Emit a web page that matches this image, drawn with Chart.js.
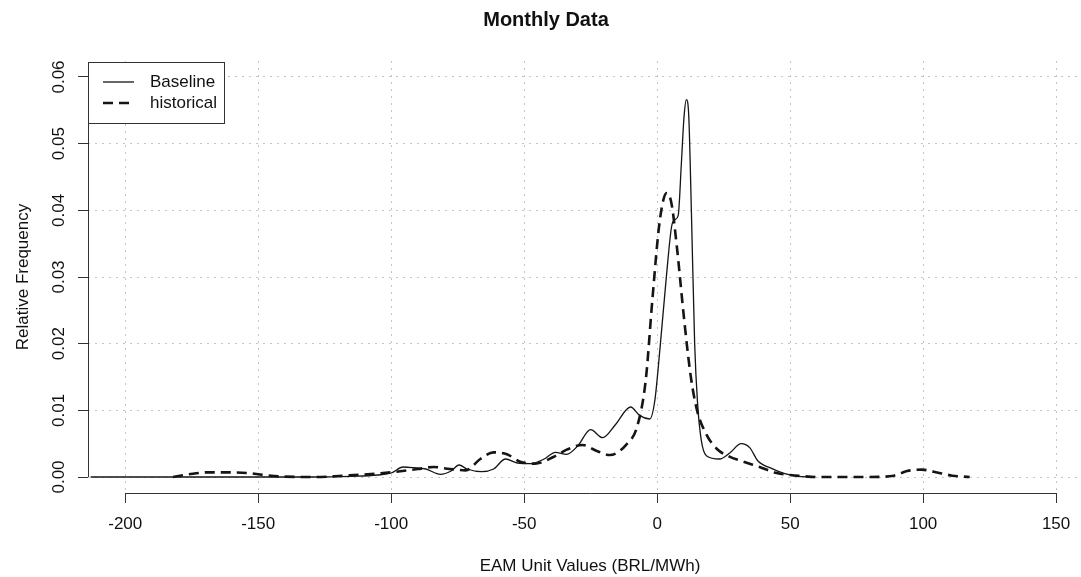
<!DOCTYPE html>
<html>
<head>
<meta charset="utf-8">
<title>Monthly Data</title>
<script src="https://cdn.jsdelivr.net/npm/chart.js@4/dist/chart.umd.min.js"></script>
<style>
  html, body { margin: 0; padding: 0; background: #ffffff; overflow: hidden; }
  #wrap { width: 1081px; height: 577px; overflow: hidden; position: relative; }
  canvas { display: block; }
</style>
</head>
<body>
<div id="wrap"><canvas id="chart" width="1180" height="577" style="width:1180px;height:577px"></canvas></div>
<script>
// Tick positions
const xTicks = [-200, -150, -100, -50, 0, 50, 100, 150];
const yTicks = [0, 0.01, 0.02, 0.03, 0.04, 0.05, 0.06];

// Baseline density (solid line)
const baselineX = [-213, -130, -115, -105, -100, -95.5, -91.5, -87, -81.5, -77.5, -74.5, -71.5, -66, -61.5, -57,
  -52.5, -47.5, -42.5, -38.3, -34, -30, -25, -20.5, -15.8, -10, -6.5, -2.8, -0.9, 1, 3.5, 5.4, 6.6, 7.9, 9.1,
  10.1, 11, 11.9, 12.9, 14.1, 15.2, 16.6, 18.5, 23.5, 27.3, 31.6, 34.8, 37.9, 43, 48, 53, 58];
const baselineY = [0, 0, 0.0001, 0.0003, 0.0006, 0.0015, 0.0014, 0.0012, 0.0004, 0.0009, 0.0018, 0.0012, 0.0008,
  0.0012, 0.0027, 0.0021, 0.002, 0.0027, 0.0037, 0.0034, 0.0046, 0.0071, 0.0059, 0.0078, 0.0105, 0.0092, 0.0087,
  0.0114, 0.019, 0.0302, 0.0375, 0.0386, 0.0392, 0.047, 0.054, 0.0566, 0.054, 0.0394, 0.02, 0.011, 0.0055, 0.0032,
  0.0027, 0.0036, 0.005, 0.0044, 0.0024, 0.0013, 0.0005, 0.0001, 0];

// Historical density (dashed line)
const historicalX = [-182, -176, -169, -161, -154, -148, -140, -128, -118, -109, -100, -90, -84, -78, -72, -66.5,
  -61.5, -56.5, -51.5, -46, -39, -34, -28, -22.7, -17.8, -11.5, -7.5, -4.3, -1.8, 0.6, 2.3, 3.6, 5.4, 7.5, 10,
  12.6, 15, 18.5, 22.5, 27, 32.5, 38.5, 45, 50, 54, 60, 70, 80, 89, 94, 99.5, 104, 111, 117.5];
const historicalY = [0, 0.0004, 0.0007, 0.0007, 0.0006, 0.0003, 0.00005, 0, 0.0002, 0.0004, 0.0007, 0.0012, 0.0015,
  0.0012, 0.001, 0.0027, 0.0037, 0.0034, 0.0023, 0.002, 0.003, 0.0041, 0.0048, 0.0039, 0.0033, 0.0049, 0.0076,
  0.0145, 0.0266, 0.0372, 0.0415, 0.0426, 0.041, 0.0342, 0.0242, 0.0152, 0.01, 0.0064, 0.0042, 0.0031, 0.0023,
  0.0015, 0.0006, 0.0003, 0.00015, 0, 0, 0, 0.0002, 0.0009, 0.0011, 0.0008, 0.0002, 0];

const FONT = '"Liberation Sans", Arial, Helvetica, sans-serif';
const INK = '#111111';
const GRID = '#c4c4c4';

const toPoints = (xs, ys) => xs.map((x, i) => ({ x: x, y: ys[i] }));

// Axis lines spanning only the first to last tick, as in base graphics
const axisLines = {
  id: 'axisLines',
  afterDatasetsDraw(chart) {
    const { ctx, chartArea, scales } = chart;
    const sx = scales.x, sy = scales.y;
    ctx.save();
    ctx.strokeStyle = '#333333';
    ctx.lineWidth = 1;
    ctx.beginPath();
    const yb = Math.round(chartArea.bottom) + 0.5;
    ctx.moveTo(sx.getPixelForValue(xTicks[0]), yb);
    ctx.lineTo(sx.getPixelForValue(xTicks[xTicks.length - 1]), yb);
    const xl = Math.round(chartArea.left) + 0.5;
    ctx.moveTo(xl, sy.getPixelForValue(yTicks[0]));
    ctx.lineTo(xl, sy.getPixelForValue(yTicks[yTicks.length - 1]));
    ctx.stroke();
    ctx.restore();
  }
};

// Boxed legend in the top-left corner of the plot region
const boxLegend = {
  id: 'boxLegend',
  afterDraw(chart) {
    const { ctx, chartArea } = chart;
    const left = Math.round(chartArea.left);
    const top = Math.round(chartArea.top) + 1;
    const w = 136, h = 61;
    ctx.save();
    ctx.fillStyle = '#ffffff';
    ctx.fillRect(left, top, w, h);
    ctx.strokeStyle = '#333333';
    ctx.lineWidth = 1;
    ctx.strokeRect(left + 0.5, top + 0.5, w, h);
    ctx.font = '17px ' + FONT;
    ctx.textBaseline = 'middle';
    ctx.textAlign = 'left';
    chart.data.datasets.forEach((ds, i) => {
      const yy = top + 20 + i * 21;
      ctx.beginPath();
      ctx.lineWidth = ds.borderWidth;
      ctx.strokeStyle = ds.borderColor;
      ctx.setLineDash(ds.borderDash || []);
      ctx.moveTo(left + 15, yy);
      ctx.lineTo(left + 46, yy);
      ctx.stroke();
      ctx.setLineDash([]);
      ctx.fillStyle = INK;
      ctx.fillText(ds.label, left + 62, yy);
    });
    ctx.restore();
  }
};

new Chart(document.getElementById('chart'), {
  type: 'line',
  data: {
    datasets: [
      {
        label: 'Baseline',
        data: toPoints(baselineX, baselineY),
        borderColor: '#151515',
        borderWidth: 1.3,
        pointRadius: 0,
        fill: false,
        cubicInterpolationMode: 'monotone'
      },
      {
        label: 'historical',
        data: toPoints(historicalX, historicalY),
        borderColor: '#151515',
        borderWidth: 2.6,
        borderDash: [10, 6],
        pointRadius: 0,
        fill: false,
        cubicInterpolationMode: 'monotone'
      }
    ]
  },
  options: {
    responsive: false,
    animation: false,
    events: [],
    layout: { padding: { left: 0, right: 88, top: 0, bottom: 0 } },
    plugins: {
      legend: { display: false },
      tooltip: { enabled: false },
      title: {
        display: true,
        text: 'Monthly Data',
        color: INK,
        font: { family: FONT, size: 20, weight: 'bold' },
        padding: { top: 8, bottom: 29 }
      }
    },
    scales: {
      x: {
        type: 'linear',
        min: -214,
        max: 163.5,
        afterBuildTicks: (s) => { s.ticks = xTicks.map(v => ({ value: v })); },
        afterFit: (s) => { s.height = 84; },
        grid: { color: GRID, lineWidth: 1, drawTicks: true, tickLength: 10, tickColor: '#333333', tickWidth: 1 },
        border: { display: false, dash: [2, 5] },
        ticks: {
          color: INK,
          font: { family: FONT, size: 17 },
          padding: 11,
          maxRotation: 0,
          minRotation: 0,
          autoSkip: false,
          callback: (v) => String(v)
        },
        title: {
          display: true,
          text: 'EAM Unit Values (BRL/MWh)',
          color: INK,
          font: { family: FONT, size: 17 },
          padding: { top: 0, bottom: 0 }
        }
      },
      y: {
        type: 'linear',
        min: -0.0024,
        max: 0.0624,
        afterBuildTicks: (s) => { s.ticks = yTicks.map(v => ({ value: v })); },
        afterFit: (s) => { s.width = 88; },
        grid: { color: GRID, lineWidth: 1, drawTicks: true, tickLength: 10, tickColor: '#333333', tickWidth: 1 },
        border: { display: false, dash: [2, 5] },
        ticks: {
          color: INK,
          font: { family: FONT, size: 17 },
          padding: 2.5,
          minRotation: 90,
          maxRotation: 90,
          crossAlign: 'center',
          callback: (v) => Number(v).toFixed(2)
        },
        title: {
          display: true,
          text: 'Relative Frequency',
          color: INK,
          font: { family: FONT, size: 17 },
          padding: { top: 13, bottom: 0 }
        }
      }
    }
  },
  plugins: [axisLines, boxLegend]
});
</script>
</body>
</html>
